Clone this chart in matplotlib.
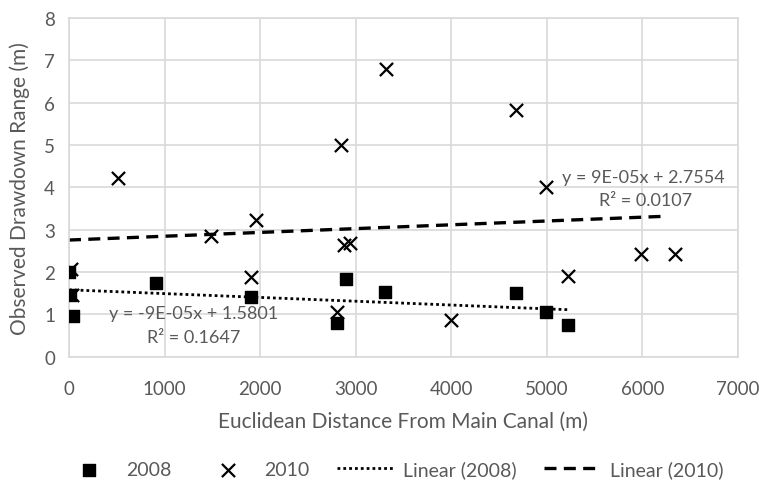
import numpy as np
import matplotlib.pyplot as plt

plt.rcParams['font.family'] = ['Lato', 'DejaVu Sans']

# 2008 observations
x2008 = [0, 10, 40, 910, 1900, 2800, 2900, 3310, 4680, 4990, 5220]
y2008 = [2.00, 1.46, 0.95, 1.73, 1.40, 0.80, 1.84, 1.53, 1.51, 1.05, 0.75]

# 2010 observations
x2010 = [20, 30, 510, 1490, 1900, 1960, 2800, 2850, 2880, 2940, 3320,
         4000, 4680, 4990, 5225, 5980, 6340]
y2010 = [2.08, 1.45, 4.22, 2.85, 1.88, 3.23, 1.06, 5.00, 2.64, 2.68, 6.80,
         0.87, 5.83, 4.00, 1.90, 2.43, 2.43]

# trendline coefficients (slope, intercept) as printed on the chart
fit2008 = (-9e-05, 1.5801)
fit2010 = (9e-05, 2.7554)

grey = '#595959'
gridc = '#d9d9d9'

fig = plt.figure(figsize=(7.74, 4.85), dpi=100)
ax = fig.add_axes([0.0891, 0.2625, 0.8644, 0.6983])

xl = np.array([0, max(x2008)])
ax.plot(xl, fit2008[0] * xl + fit2008[1], color='black', ls=(0, (1, 1.1)), lw=2.0,
        label='Linear (2008)', zorder=2)
xl2 = np.array([0, max(x2010) - 80])
ax.plot(xl2, fit2010[0] * xl2 + fit2010[1], color='black', ls=(0, (3.6, 2.2)), lw=2.4,
        label='Linear (2010)', zorder=2)

ax.scatter(x2008, y2008, marker='s', s=70, color='black', label='2008', zorder=3)
ax.scatter(x2010, y2010, marker='x', s=90, color='black', linewidths=1.6,
           label='2010', zorder=3)

ax.set_xlim(0, 7000)
ax.set_ylim(0, 8)
ax.set_xticks(np.arange(0, 7001, 1000))
ax.set_yticks(np.arange(0, 9, 1))
ax.grid(True, color=gridc, lw=1.2)
ax.set_axisbelow(True)
for s in ax.spines.values():
    s.set_color(gridc)
    s.set_linewidth(1.2)
ax.tick_params(length=0, labelsize=13.5, labelcolor=grey, pad=10)
ax.tick_params(axis='x', pad=17)

ax.set_xlabel('Euclidean Distance From Main Canal (m)', fontsize=15, color=grey, labelpad=10)
ax.set_ylabel('Observed Drawdown Range (m)', fontsize=15, color=grey, labelpad=10)

ax.text(1300, 1.03, 'y = -9E-05x + 1.5801', fontsize=13, color=grey, ha='center', va='center')
ax.text(1300, 0.47, 'R² = 0.1647', fontsize=13, color=grey, ha='center', va='center')
ax.text(6010, 4.25, 'y = 9E-05x + 2.7554', fontsize=13, color=grey, ha='center', va='center')
ax.text(6030, 3.70, 'R² = 0.0107', fontsize=13, color=grey, ha='center', va='center')

h, l = ax.get_legend_handles_labels()
order = [2, 3, 0, 1]
fig.legend([h[i] for i in order], [l[i] for i in order], loc='center',
           bbox_to_anchor=(0.506, 0.031), ncol=4, frameon=False, fontsize=14,
           labelcolor=grey, handlelength=3, handletextpad=0.4, columnspacing=1.4)

fig.savefig('out.png', dpi=100)
